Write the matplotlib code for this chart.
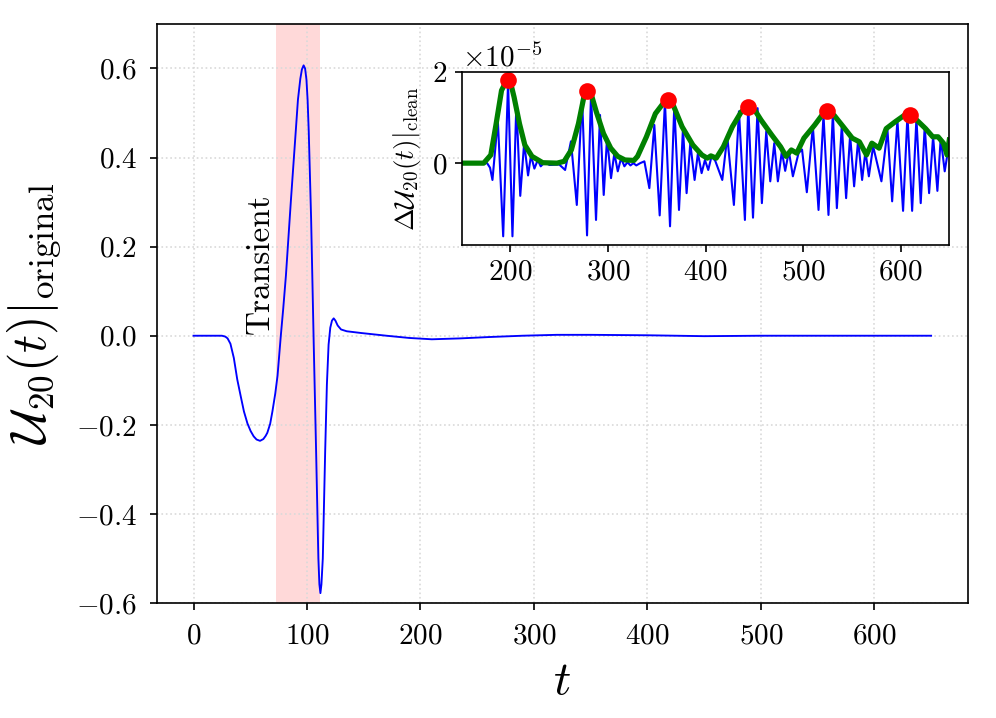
import matplotlib
matplotlib.use("Agg")
import matplotlib.pyplot as plt

plt.rcParams['font.family'] = 'serif'
plt.rcParams['font.serif'] = ['cmr10', 'DejaVu Serif']
plt.rcParams['mathtext.fontset'] = 'cm'
plt.rcParams['axes.formatter.use_mathtext'] = True

# main waveform U_20(t)
main_t = [0, 10, 20, 25, 28, 30, 32.5, 35.5, 38.5, 41.5, 44.4, 47.5, 50.3, 53,
          55.5, 58.6, 61.5, 63.5, 65, 67.5, 69.5, 72, 74, 76.9, 79, 81.4, 85.8,
          90.2, 92, 94.1, 95.5, 97, 98.3, 99.5, 100.5, 101.5, 103.6, 105.9, 108,
          110, 110.9, 111.8, 112.7, 113.9, 116, 117.5, 119, 120.5, 122, 123.5,
          125, 127, 130, 135, 148, 170, 190, 210, 235, 260, 290, 320, 350, 400,
          450, 500, 550, 600, 650]
main_u = [0.0, 0.0, 0.0, 0.0, -0.002, -0.006, -0.018, -0.05, -0.098, -0.135,
          -0.17, -0.197, -0.214, -0.226, -0.233, -0.236, -0.232, -0.225, -0.218,
          -0.198, -0.17, -0.13, -0.09, 0.0, 0.06, 0.135, 0.304, 0.464, 0.53,
          0.577, 0.598, 0.607, 0.600, 0.575, 0.53, 0.46, 0.263, -0.018, -0.259,
          -0.5, -0.558, -0.578, -0.558, -0.5, -0.259, -0.11, -0.02, 0.018, 0.034,
          0.039, 0.034, 0.023, 0.014, 0.010, 0.006, 0.0, -0.005, -0.008, -0.006,
          -0.003, 0.0, 0.002, 0.002, 0.001, -0.001, 0.0, 0.0, 0.0, 0.0]

# transient window
trans_lo, trans_hi = 73, 111

# inset: cleaned residual (units of 1e-5), extrema
ins_t = [150, 170, 176, 179, 181.5, 187, 192.5, 197.5, 202, 206, 210, 214,
         218, 221, 224.5, 228, 231, 235, 240, 250, 256, 262, 268, 273.4, 278.5,
         282.6, 287.7, 291.8, 295.6, 299, 303.1, 306.5, 310, 313.4, 316.8, 320,
         323, 326, 329, 333, 337.3, 342.4, 347.5, 353, 358.4, 363.6, 368, 372.8,
         376.9, 380.6, 384.4, 388.8, 392.2, 396, 399.4, 402.8, 406.2, 410,
         417.2, 422.3, 429.1, 434.3, 440.4, 443.8, 448.7, 453.4, 457.8, 462.3,
         466.4, 470.5, 474.2, 478.3, 481.7, 485.5, 489.6, 495.4, 499, 503.9,
         510.1, 515.9, 521, 526.1, 530.6, 534.7, 539.8, 544.2, 548.3, 552.4,
         556.5, 560.6, 564, 567.5, 571.9, 580.4, 586.6, 591.4, 596.8, 602.6,
         607.1, 611.9, 616.3, 620.7, 624.8, 629.3, 633.4, 637.8, 641.2, 645.3,
         650]
ins_du = [0.0, 0.0, 0.0, -0.1, -0.37, 0.95, -1.61, 1.78, -1.61, 1.3, -0.72,
          0.45, -0.27, 0.17, -0.12, 0.07, -0.07, 0.02, -0.04, -0.03, -0.15, 0.48,
          -0.92, 1.43, -1.59, 1.54, -1.25, 1.06, -0.7, 0.55, -0.33, 0.22, -0.18,
          0.11, -0.07, 0.02, -0.05, 0.0, -0.05, 0.0, 0.04, -0.55, 0.84, -1.15,
          1.36, -1.39, 1.28, -1.03, 0.77, -0.66, 0.44, -0.37, 0.22, -0.22, 0.07,
          -0.15, 0.15, 0.05, -0.37, 0.59, -0.92, 1.14, -1.25, 1.28, -1.2, 1.21,
          -0.88, 0.7, -0.4, 0.44, -0.4, 0.26, -0.17, 0.26, -0.29, 0.22, 0.3,
          -0.64, 0.81, -1.03, 1.06, -1.14, 1.1, -0.99, 0.84, -0.77, 0.62, -0.51,
          0.51, -0.37, 0.26, -0.29, 0.37, -0.4, 0.73, -0.84, 0.95, -1.05, 1.06,
          -1.05, 0.99, -0.88, 0.81, -0.66, 0.59, -0.61, 0.55, -0.18, 0.45]

# upper envelope (green)
env_t = [150, 172.5, 179.8, 185.3, 190.8, 196.3, 200, 203.7, 209.2, 214.7,
         222, 233, 247.7, 255, 262.4, 269.7, 275.2, 278.9, 282.6, 288, 295.4,
         302.8, 310, 317.4, 326.6, 330.3, 339.4, 348.6, 357.8, 362.2, 367, 376,
         387, 396.3, 401.8, 405.5, 411, 418.3, 427.5, 436.7, 444, 449.5, 456.9,
         467.9, 477, 482.6, 488, 493.6, 500.9, 512, 521, 524.8, 532, 541.3,
         550.5, 557.8, 565.1, 570.6, 578, 585.3, 594.5, 603.7, 609.2, 616.5,
         625.7, 633, 638.5, 644, 647.7, 650]
env_du = [0.0, 0.0, 0.18, 0.87, 1.6, 1.83, 1.78, 1.45, 0.87, 0.4, 0.15, 0.01,
          0.0, 0.04, 0.29, 0.87, 1.45, 1.56, 1.53, 1.13, 0.65, 0.33, 0.15, 0.07,
          0.06, 0.15, 0.58, 1.09, 1.35, 1.38, 1.27, 0.8, 0.4, 0.18, 0.11, 0.16,
          0.11, 0.36, 0.8, 1.13, 1.24, 1.2, 0.95, 0.62, 0.36, 0.15, 0.29, 0.22,
          0.55, 0.84, 1.1, 1.14, 1.05, 0.8, 0.55, 0.47, 0.18, 0.44, 0.33, 0.76,
          0.91, 1.05, 1.02, 0.95, 0.76, 0.58, 0.58, 0.44, 0.18, 0.51]

# envelope maxima (red dots)
peak_t = [197, 278.9, 361.5, 443.3, 524.8, 609.2]
peak_du = [1.83, 1.58, 1.38, 1.24, 1.14, 1.05]

fig = plt.figure(figsize=(6.64, 4.787), dpi=150)
ax = fig.add_axes([0.1573, 0.1602, 0.8146, 0.8064])

ax.plot(main_t, main_u, color='blue', lw=0.9)
ax.axvspan(trans_lo, trans_hi, color='red', alpha=0.15, lw=0)
ax.text(trans_lo - 1, 0.003, 'Transient', rotation=90, ha='right',
        va='bottom', fontsize=16)
ax.set_xlim(-32.5, 682.5)
ax.set_ylim(-0.6, 0.7)
ax.set_xticks([0, 100, 200, 300, 400, 500, 600])
ax.set_yticks([-0.6, -0.4, -0.2, 0.0, 0.2, 0.4, 0.6])
ax.tick_params(labelsize=14, pad=6)
ax.grid(True, linestyle=':', color='0.85', lw=0.8)
ax.set_xlabel(r'$t$', fontsize=23, labelpad=5)
ax.set_ylabel(r'$\mathcal{U}_{20}(t)|_{\rm original}$', fontsize=24,
              labelpad=6)

ins = fig.add_axes([0.4636, 0.6588, 0.4895, 0.2405])
scale = 1e-5
ins.plot(ins_t, [v * scale for v in ins_du], color='blue', lw=1.0)
ins.plot(env_t, [v * scale for v in env_du], color='green', lw=2.5)
ins.plot(peak_t, [v * scale for v in peak_du], 'o', color='red', ms=7)
ins.set_xlim(150, 650)
ins.set_ylim(-1.8e-5, 2.0e-5)
ins.set_xticks([200, 300, 400, 500, 600])
ins.set_yticks([0, 2e-5])
ins.tick_params(labelsize=14)
ins.yaxis.get_offset_text().set_fontsize(14)
ins.set_ylabel(r'$\Delta\mathcal{U}_{20}(t)|_{\rm clean}$', fontsize=13)

fig.savefig('out.png', dpi=150)
